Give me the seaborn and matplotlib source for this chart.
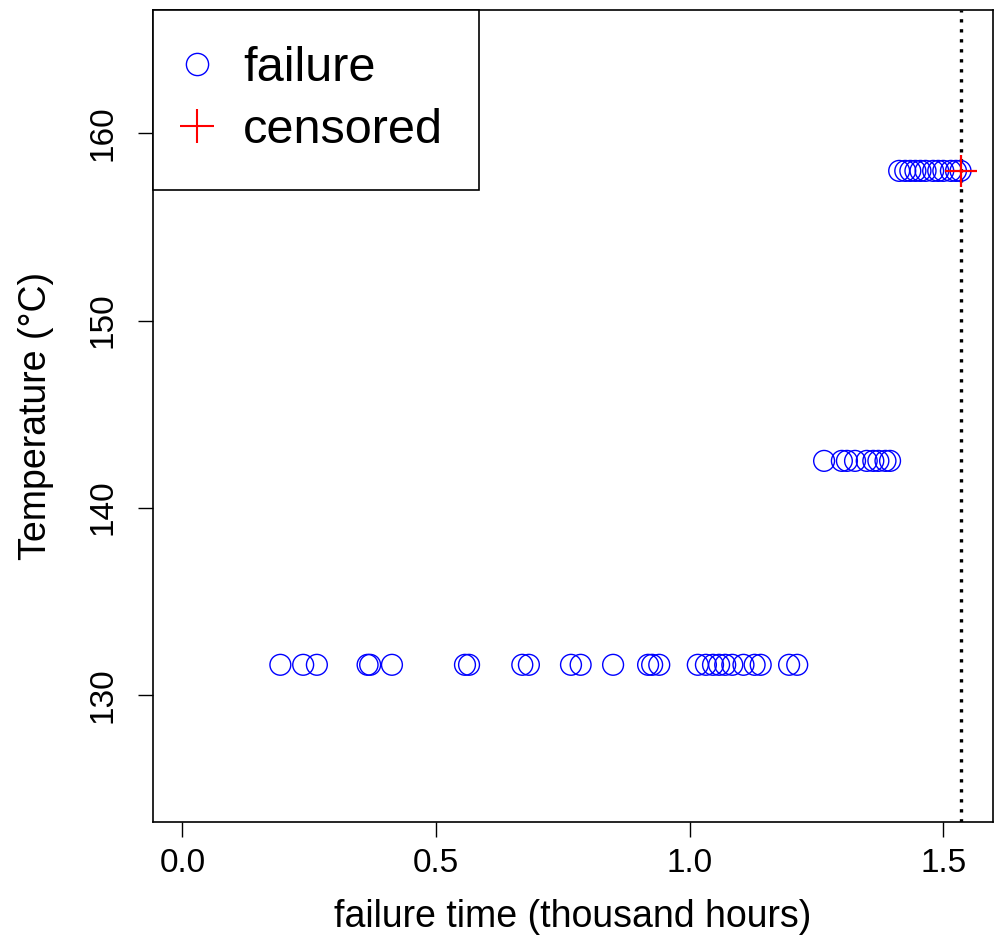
import matplotlib
matplotlib.use("Agg")
import matplotlib.pyplot as plt
from matplotlib.lines import Line2D
import seaborn as sns
import pandas as pd

# failure times (thousand hours) at each temperature
fail_time_131 = [0.193, 0.238, 0.265, 0.365, 0.370, 0.413, 0.557, 0.565, 0.670, 0.683,
                 0.766, 0.785, 0.849, 0.918, 0.926, 0.940, 1.016, 1.032, 1.046, 1.058,
                 1.070, 1.084, 1.106, 1.128, 1.140, 1.196, 1.212]
fail_time_142 = [1.265, 1.300, 1.310, 1.326, 1.349, 1.362, 1.372, 1.386, 1.395]
fail_time_158 = [1.413, 1.425, 1.435, 1.445, 1.455, 1.465, 1.480, 1.490, 1.500,
                 1.515, 1.525, 1.534]
temps = [131.6, 142.5, 158.0]
cens_time = [1.534]
cens_temp = [158.0]
censor_line = 1.534

x_ticks = [0.0, 0.5, 1.0, 1.5]
y_ticks = [130, 140, 150, 160]

fail_df = pd.DataFrame({
    "time": fail_time_131 + fail_time_142 + fail_time_158,
    "temp": [temps[0]] * len(fail_time_131) + [temps[1]] * len(fail_time_142)
            + [temps[2]] * len(fail_time_158),
})
cens_df = pd.DataFrame({"time": cens_time, "temp": cens_temp})

sns.set_theme(style="white")
plt.rcParams["font.family"] = ["Liberation Sans", "DejaVu Sans"]
plt.rcParams["text.color"] = "black"
plt.rcParams["axes.labelcolor"] = "black"
plt.rcParams["xtick.color"] = "black"
plt.rcParams["ytick.color"] = "black"

fig = plt.figure(figsize=(9.97, 9.41), dpi=100)
ax = fig.add_axes([0.1535, 0.1265, 0.8425, 0.8629])

sns.scatterplot(data=fail_df, x="time", y="temp", ax=ax, marker="o", s=225,
                facecolor="none", edgecolor="blue", linewidth=1.0, zorder=3)
ax.axvline(censor_line, color="black", linestyle=(0, (1, 2)), linewidth=2.4, zorder=2)
sns.scatterplot(data=cens_df, x="time", y="temp", ax=ax, marker="+", s=529,
                color="red", linewidth=1.6, zorder=4)

ax.set_xlim(-0.058, 1.598)
ax.set_ylim(123.2, 166.6)
ax.set_xticks(x_ticks)
ax.set_xticklabels([f"{v:.1f}" for v in x_ticks])
ax.set_yticks(y_ticks)
ax.set_yticklabels([str(v) for v in y_ticks], rotation=90, va="center")
ax.tick_params(axis="both", labelsize=24, length=11, width=1.0, color="black",
               labelcolor="black", direction="out", bottom=True, left=True, pad=8)
ax.tick_params(axis="y", pad=14)
ax.set_xlabel("failure time (thousand hours)", fontsize=27, labelpad=14, color="black")
ax.set_ylabel("Temperature (\u00b0C)", fontsize=27, labelpad=24, color="black")
for s in ax.spines.values():
    s.set_color("black")
    s.set_linewidth(1.2)

handles = [
    Line2D([], [], marker="o", linestyle="", markersize=16, markerfacecolor="none",
           markeredgecolor="blue", markeredgewidth=1.0),
    Line2D([], [], marker="+", linestyle="", markersize=24, color="red",
           markeredgewidth=1.5),
]
leg = ax.legend(handles, ["failure", "censored"], loc="upper left", fontsize=35,
                frameon=True, fancybox=False, borderaxespad=0, borderpad=0.75,
                labelspacing=0.35, handletextpad=0.79, handlelength=0.31)
leg.get_frame().set_edgecolor("black")
leg.get_frame().set_linewidth(1.2)
leg.get_frame().set_alpha(1)
for t in leg.get_texts():
    t.set_color("black")

fig.savefig("out.png", dpi=100)
